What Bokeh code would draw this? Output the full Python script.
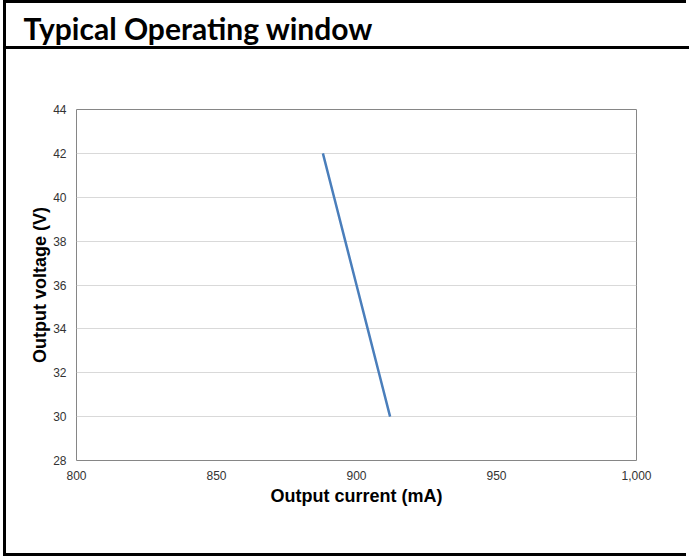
from bokeh.plotting import figure
from bokeh.models import NumeralTickFormatter, FixedTicker, Range1d, InlineStyleSheet, Title
from bokeh.embed import file_html
from bokeh.resources import INLINE

# data
current_ma = [888, 892, 896, 900, 904, 908, 912]
voltage_v = [42, 40, 38, 36, 34, 32, 30]
x_ticks = [800, 850, 900, 950, 1000]
y_ticks = [28, 30, 32, 34, 36, 38, 40, 42, 44]
title_text = "Typical Operating window"
x_label = "Output current (mA)"
y_label = "Output voltage (V)"

# canvas sits at page (6, 3) inside a CSS border
W, H = 683, 556
p = figure(width=W, height=H, output_backend="svg", toolbar_location=None,
           x_range=Range1d(800, 1000), y_range=Range1d(28, 44),
           min_border_left=70, min_border_right=53, min_border_top=106, min_border_bottom=H - 457,
           styles={"border-left": "3px solid black", "border-top": "3px solid black",
                   "border-bottom": "3px solid black", "margin-left": "3px",
                   "position": "relative"})
p.title_location = None
p.stylesheets = [InlineStyleSheet(css=":host::after{content:'';position:absolute;left:0;top:43px;"
                                      "width:683px;height:3px;background:#000;z-index:10;}")]
p.background_fill_color = "white"
p.border_fill_color = "white"
p.outline_line_color = "#868686"
p.outline_line_width = 1

p.line(current_ma, voltage_v, line_color="#4a7ebb", line_width=2.5)

for ax in (p.xaxis[0], p.yaxis[0]):
    ax.axis_line_color = None
    ax.major_tick_line_color = None
    ax.minor_tick_line_color = None
    ax.major_label_text_font = "Liberation Sans"
    ax.major_label_text_font_size = "12px"
    ax.major_label_text_color = "#333333"
    ax.axis_label_text_font = "Liberation Sans"
    ax.axis_label_text_font_size = "18px"
    ax.axis_label_text_font_style = "bold"
    ax.axis_label_text_color = "#000000"

p.xaxis.ticker = FixedTicker(ticks=x_ticks)
p.yaxis.ticker = FixedTicker(ticks=y_ticks)
p.xaxis.formatter = NumeralTickFormatter(format="0,0")
p.xaxis.axis_label = x_label
p.yaxis.axis_label = y_label
p.xaxis.major_label_standoff = 4
p.yaxis.major_label_standoff = 4
p.xaxis.axis_label_standoff = 3
p.yaxis.axis_label_standoff = 0

p.xgrid.grid_line_color = None
p.ygrid.grid_line_color = "#d9d9d9"
p.ygrid.grid_line_width = 1

# spacer (nearest the frame), then the real title further out
p.add_layout(Title(text=" ", text_font_size="10px", standoff=47, text_color="white"), "above")
p.add_layout(Title(text=title_text, align="left", offset=-53, standoff=4, vertical_align="top",
                   text_font="Lato", text_font_style="bold", text_font_size="30px",
                   text_color="black"), "above")

open("out.html", "w").write(file_html(p, INLINE))
